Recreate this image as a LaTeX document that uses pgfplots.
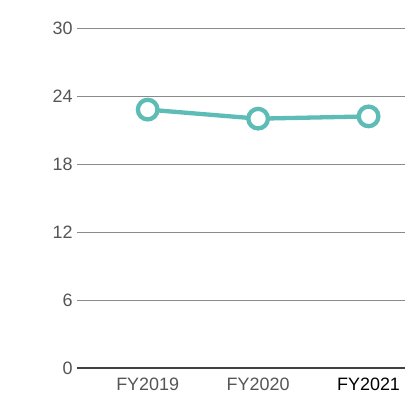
\documentclass[border=0pt]{standalone}
\usepackage{pgfplots}
\pgfplotsset{compat=1.18}
\usepackage{fontspec}
\setmainfont{Liberation Sans}
\definecolor{teal1}{HTML}{5DBDB6}
\definecolor{gridgray}{HTML}{8A8A8A}
\definecolor{labgray}{HTML}{555555}
\begin{document}
\begin{tikzpicture}[x=1bp,y=1bp]
\begin{axis}[
  scale only axis,
  width=328bp, height=340bp,
  at={(0,0)}, anchor=south west,
  xmin=-0.64, xmax=2.33,
  ymin=0, ymax=30,
  ytick={0,6,12,18,24,30},
  xtick={0,1,2},
  xticklabels={FY2019,FY2020,{\color{black}FY2021}},
  axis line style={draw=none},
  ymajorgrids,
  grid style={gridgray, line width=0.9bp},
  major tick length=0pt,
  tick label style={font=\fontsize{18}{19}\selectfont, text=labgray},
  yticklabel style={xshift=-1bp},
  xticklabel style={yshift=-6bp},
  /pgf/number format/assume math mode=true,
  clip=false,
]
\draw[black!75, line width=1.1bp] (rel axis cs:0,0) -- (rel axis cs:1,0);
\addplot[teal1, line width=4.3bp, mark=*, mark size=9.8bp,
  mark options={fill=white, draw=teal1, line width=4.3bp}]
  coordinates {(0,22.8) (1,22.0) (2,22.2)};
\end{axis}
\pgfresetboundingbox
\useasboundingbox (-77bp,-27bp) rectangle (328bp,368bp);
\end{tikzpicture}
\end{document}
